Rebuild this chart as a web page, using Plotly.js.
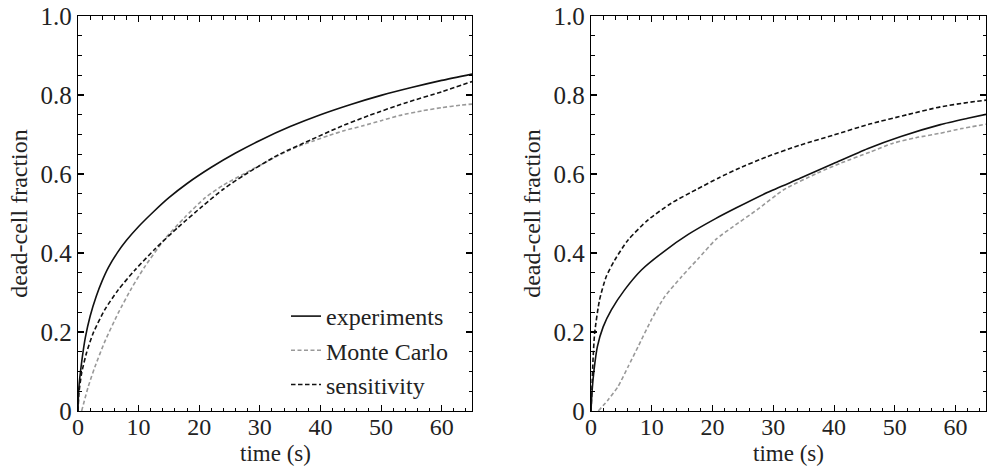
<!DOCTYPE html>
<html>
<head>
<meta charset="utf-8">
<script src="https://cdn.plot.ly/plotly-3.0.1.min.js"></script>
<style>html,body{margin:0;padding:0;background:#fff;}#chart{width:987px;height:468px;}</style>
</head>
<body>
<div id="chart"></div>
<script>
// ---- Left panel data ----
const expL_t = [0, 0.1, 0.3, 0.7, 1.2, 2, 3, 4, 5, 6.5, 8, 10, 12.5, 15, 18, 22, 26, 30, 35, 40, 45, 50, 55, 60, 65];
const expL_v = [0, 0.05, 0.085, 0.135, 0.185, 0.24, 0.29, 0.33, 0.363, 0.401, 0.432, 0.467, 0.505, 0.54, 0.576, 0.617, 0.653, 0.685, 0.72, 0.75, 0.776, 0.799, 0.819, 0.837, 0.853];
const mcL_t = [0.6, 1.7, 2.8, 4.4, 6.6, 8.8, 11, 14.3, 17.6, 21, 24, 27.7, 30.5, 33.2, 36, 38.7, 41.5, 44, 47, 50, 53, 56.8, 60, 63, 65];
const mcL_v = [0, 0.062, 0.112, 0.175, 0.247, 0.31, 0.365, 0.435, 0.49, 0.54, 0.572, 0.603, 0.626, 0.648, 0.668, 0.683, 0.698, 0.71, 0.722, 0.735, 0.748, 0.76, 0.768, 0.774, 0.777];
const senL_t = [0, 0.15, 0.6, 1.4, 2.5, 4.4, 6.6, 9.4, 12.7, 16.5, 20.5, 24, 27.5, 33, 38.5, 43, 48, 54, 60, 65];
const senL_v = [0, 0.045, 0.096, 0.147, 0.197, 0.256, 0.306, 0.357, 0.41, 0.465, 0.518, 0.562, 0.598, 0.648, 0.687, 0.718, 0.748, 0.78, 0.808, 0.834];

// ---- Right panel data ----
const expR_t = [0, 0.15, 0.5, 1.05, 2, 3.35, 5.5, 8.3, 12.1, 16, 20.5, 24, 29, 34.4, 40, 45.5, 51, 57.5, 62, 65];
const expR_v = [0, 0.045, 0.104, 0.163, 0.213, 0.256, 0.306, 0.357, 0.405, 0.447, 0.487, 0.515, 0.553, 0.589, 0.627, 0.664, 0.695, 0.725, 0.741, 0.751];
const mcR_t = [1.2, 2.8, 4.45, 6.1, 7.75, 9.9, 12.1, 14.9, 17.6, 20.6, 23.4, 27.3, 31.7, 37.2, 41, 46, 49.7, 53.5, 57.4, 61, 65];
const mcR_v = [0, 0.028, 0.062, 0.112, 0.163, 0.23, 0.289, 0.34, 0.385, 0.435, 0.467, 0.509, 0.56, 0.602, 0.627, 0.656, 0.678, 0.692, 0.703, 0.715, 0.726];
const senR_t = [0, 0.15, 0.33, 0.6, 1.4, 2.5, 3.9, 6.1, 9.4, 13.2, 17.5, 21, 24, 29, 34.4, 40, 46, 52, 57.5, 62, 65];
const senR_v = [0, 0.053, 0.129, 0.197, 0.281, 0.34, 0.382, 0.433, 0.484, 0.526, 0.562, 0.59, 0.612, 0.644, 0.673, 0.699, 0.727, 0.75, 0.77, 0.781, 0.787];

// ---- Labels ----
const seriesNames = ['experiments', 'Monte Carlo', 'sensitivity'];
const xTicks = [0, 10, 20, 30, 40, 50, 60];
const yTicks = [0, 0.2, 0.4, 0.6, 0.8, 1.0];
const yTickText = ['0', '0.2', '0.4', '0.6', '0.8', '1.0'];
const xTitle = 'time (s)';
const yTitle = 'dead-cell fraction';

const FONT = 'Liberation Serif, Times New Roman, serif';
const lineExp = {color: '#111', width: 1.6, dash: 'solid', shape: 'spline', smoothing: 0.6};
const lineMC = {color: '#999', width: 1.6, dash: '4px,2.5px', shape: 'spline', smoothing: 0.6};
const lineSen = {color: '#111', width: 1.6, dash: '4.5px,2.5px', shape: 'spline', smoothing: 0.6};

const traces = [
  {x: expL_t, y: expL_v, name: seriesNames[0], mode: 'lines', line: lineExp, xaxis: 'x', yaxis: 'y'},
  {x: mcL_t, y: mcL_v, name: seriesNames[1], mode: 'lines', line: lineMC, xaxis: 'x', yaxis: 'y'},
  {x: senL_t, y: senL_v, name: seriesNames[2], mode: 'lines', line: lineSen, xaxis: 'x', yaxis: 'y'},
  {x: expR_t, y: expR_v, name: seriesNames[0], mode: 'lines', line: lineExp, xaxis: 'x2', yaxis: 'y2', showlegend: false},
  {x: mcR_t, y: mcR_v, name: seriesNames[1], mode: 'lines', line: lineMC, xaxis: 'x2', yaxis: 'y2', showlegend: false},
  {x: senR_t, y: senR_v, name: seriesNames[2], mode: 'lines', line: lineSen, xaxis: 'x2', yaxis: 'y2', showlegend: false}
];

const W = 987, H = 468;
const mL = 78, mR = 1, mT = 16, mB = 57;
const PW = W - mL - mR, PH = H - mT - mB;
const domL = [0, 394 / PW], domR = [(591 - mL) / PW, 1];

function xax(domain, anchor) {
  return {
    domain: domain, anchor: anchor, range: [0, 65],
    tickvals: xTicks, ticks: 'inside', ticklen: 6, tickwidth: 1.1, tickcolor: '#000',
    showline: true, linecolor: '#000', linewidth: 1.3, mirror: 'ticks',
    showgrid: false, zeroline: false, fixedrange: true,
    minor: {dtick: 2, tick0: 0, ticks: 'inside', ticklen: 3.5, tickwidth: 1, tickcolor: '#000', showgrid: false},
    tickfont: {family: FONT, size: 24, color: '#222'},
    ticklabelstandoff: -6
  };
}
function yax(anchor) {
  return {
    domain: [0, 1], anchor: anchor, range: [0, 1],
    tickvals: yTicks, ticktext: yTickText, ticks: 'inside', ticklen: 6, tickwidth: 1.1, tickcolor: '#000',
    showline: true, linecolor: '#000', linewidth: 1.3, mirror: 'ticks',
    showgrid: false, zeroline: false, fixedrange: true,
    minor: {dtick: 0.05, tick0: 0, ticks: 'inside', ticklen: 3.5, tickwidth: 1, tickcolor: '#000', showgrid: false},
    tickfont: {family: FONT, size: 25, color: '#222'},
    title: {text: yTitle, font: {family: FONT, size: 24, color: '#222'}, standoff: 6}
  };
}

const xTitleY = -(454 - (mT + PH)) / PH;
function xTitleAnn(dom) {
  return {text: xTitle, xref: 'paper', yref: 'paper', x: (dom[0] + dom[1]) / 2, y: xTitleY,
          xanchor: 'center', yanchor: 'middle', showarrow: false,
          font: {family: FONT, size: 23, color: '#222'}};
}

const layout = {
  width: W, height: H,
  margin: {l: mL, r: mR, t: mT, b: mB, pad: 0},
  paper_bgcolor: '#fff', plot_bgcolor: '#fff',
  font: {family: FONT, size: 24, color: '#222'},
  showlegend: true,
  legend: {
    x: (286 - mL) / PW, y: (411 - 294) / 395, xanchor: 'left', yanchor: 'top',
    bgcolor: 'rgba(0,0,0,0)', borderwidth: 0, tracegroupgap: 0,
    font: {family: FONT, size: 24, color: '#222'}
  },
  xaxis: xax(domL, 'y'),
  yaxis: yax('x'),
  xaxis2: xax(domR, 'y2'),
  yaxis2: yax('x2'),
  annotations: [xTitleAnn(domL), xTitleAnn(domR)]
};

Plotly.newPlot('chart', traces, layout, {displayModeBar: false, staticPlot: true});
</script>
</body>
</html>
